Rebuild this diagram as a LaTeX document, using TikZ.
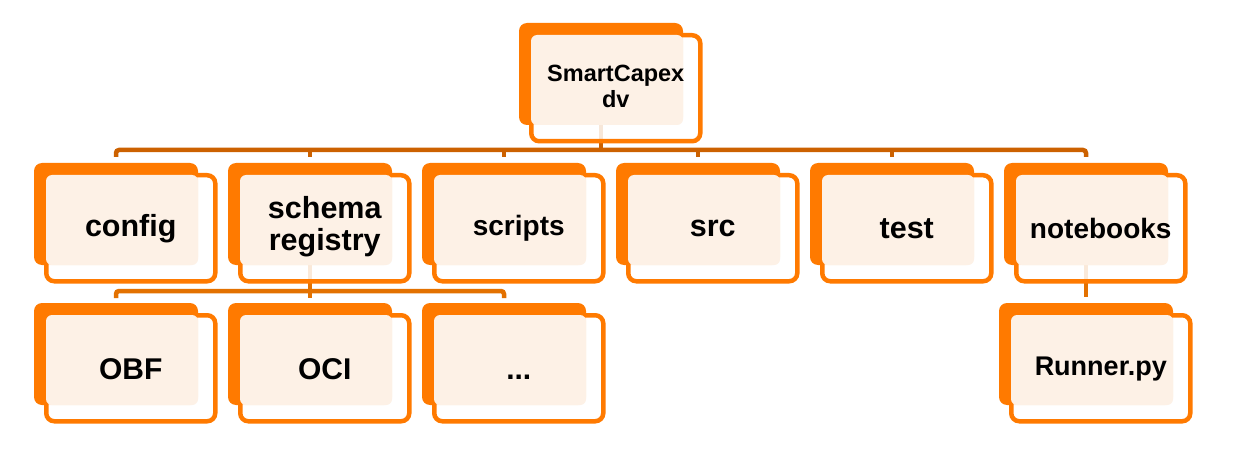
\documentclass[tikz,border=0pt]{standalone}
\usepackage{fontspec}
\setmainfont{Liberation Sans}
\definecolor{orB}{HTML}{FF7A00}
\definecolor{crm}{HTML}{FDF1E6}
\definecolor{busAc}{HTML}{CC6100}
\definecolor{busBc}{HTML}{E37100}
\pgfdeclarelayer{bg}
\pgfsetlayers{bg,main}
\tikzset{
  backbox/.style={fill=orB, rounded corners=8pt},
  frontbox/.style={draw=orB, line width=4.5pt, fill=white, fill opacity=0.85,
    rounded corners=8pt, rectangle, inner sep=0pt, anchor=north west},
  creambox/.style={fill=crm, rounded corners=6pt},
  lbl/.style={text=black, align=center, inner sep=0pt},
  busA/.style={draw=busAc, line width=4.5pt, rounded corners=3pt},
  busB/.style={draw=busBc, line width=4.5pt, rounded corners=3pt},
}
% [yshift] name, x0, y0, width, font size, baselineskip, text
\newcommand\dirbox[8][-0.5pt]{%
  \fill[backbox] (#3,#4) rectangle ++(#5,102);
  \node[frontbox, minimum width=#5pt+5pt, minimum height=106pt] (#2) at (#3+10,#4+10) {};
  \fill[creambox] (#3+12,#4+12) rectangle (#3+#5,#4+102);
  \coordinate (#2-c) at (#3+#5/2,#4+51);
  \node[lbl, yshift=#1, font=\fontsize{#6}{#7}\selectfont\bfseries] (#2-l) at (#2.center) {#8};
}
\begin{document}
\begin{tikzpicture}[x=1pt,y=-1pt]
\useasboundingbox (0,0) rectangle (1260,465);
\dirbox[1.5pt]{top}{519}{23}{164}{23.5}{26}{SmartCapex\\dv}
\dirbox{config}{34}{163}{164}{30.5}{32}{config}
\dirbox[1.5pt]{schema}{228}{163}{164}{30.5}{32}{schema\\registry}
\dirbox{scripts}{422}{163}{164}{28}{30}{scripts}
\dirbox{src}{616}{163}{164}{30.5}{32}{src}
\dirbox{test}{810}{163}{164}{30.5}{32}{test}
\dirbox{notebooks}{1004}{163}{164}{28}{30}{notebooks}
\dirbox{obf}{34}{303}{164}{30}{32}{OBF}
\dirbox{oci}{228}{303}{164}{30}{32}{OCI}
\dirbox{more}{422}{303}{164}{30}{32}{\vphantom{O}...}
\dirbox{runner}{999}{303}{174}{27}{30}{Runner.py}
\coordinate (b1) at (0,150);
\coordinate (t1) at (0,157);
\coordinate (b2) at (0,291);
\coordinate (t2) at (0,298);
\coordinate (t3) at (0,297);
\begin{pgfonlayer}{bg}
  \draw[busA] (config-c |- t1) |- (top-c |- b1) -| (notebooks-c |- t1);
  \draw[busA] (top-c) -- (top-c |- b1);
  \foreach \n in {schema,scripts,src,test}
    \draw[busA] (\n-c |- b1) -- (\n-c |- t1);
  \draw[busB] (obf-c |- t2) |- (schema-c |- b2) -| (more-c |- t2);
  \draw[busB] (schema-c) -- (schema-c |- b2);
  \draw[busB] (oci-c |- b2) -- (oci-c |- t2);
  \draw[busB] (notebooks-c) -- (runner-c |- t3);
\end{pgfonlayer}
\end{tikzpicture}
\end{document}
